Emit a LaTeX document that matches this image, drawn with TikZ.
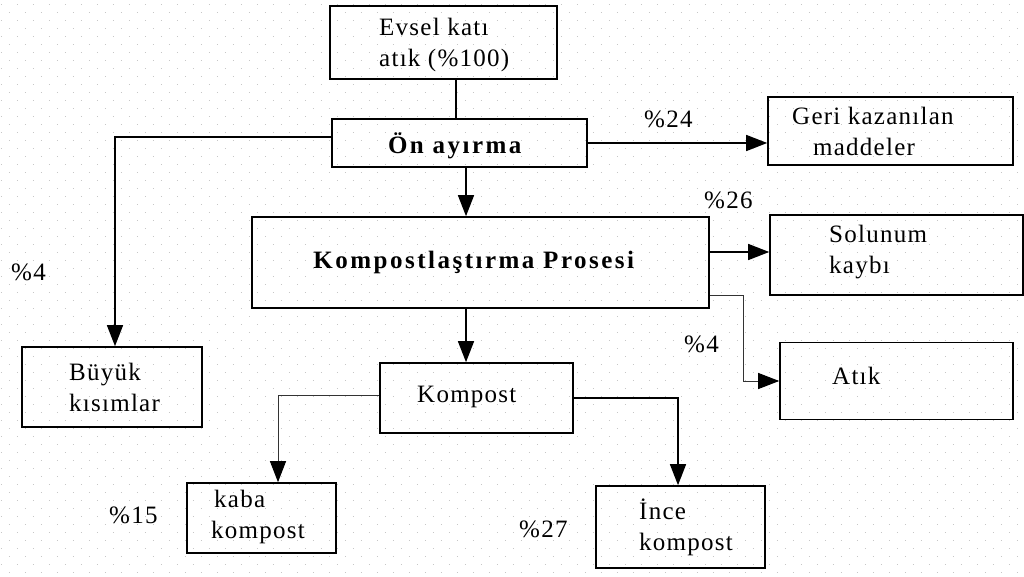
\documentclass[tikz,border=0pt]{standalone}
\usepackage{fontspec}
\setmainfont{Liberation Serif}[LetterSpace=5, BoldFeatures={LetterSpace=10}]
\usetikzlibrary{arrows.meta}

\tikzset{
  box/.style={draw, line width=1.6pt, inner sep=0pt},
  txt/.style={inner sep=0pt, align=left, font=\fontsize{25}{31}\selectfont},
  conn/.style={line width=1.4pt},
  thinconn/.style={line width=1pt, black!80},
  flow/.style={conn, -{Triangle[length=21pt, width=16pt]}},
  thinflow/.style={thinconn, -{Triangle[length=21pt, width=16pt, color=black, fill=black]}},
  dotrow/.style={line width=1.5pt, black!22, dash pattern=on 1.5pt off 14.5pt},
}

\begin{document}
\begin{tikzpicture}[x=1pt, y=-1pt]
\useasboundingbox (0,0) rectangle (1024,577);

% dotted paper: staggered rows 8pt apart, dots 16pt apart
\foreach \m in {0,...,71} {
  \pgfmathsetmacro{\yy}{4.7 + 8*\m}
  \pgfmathsetmacro{\xx}{mod(\m,2)==0 ? 1.7 - 0.75 : 9.7 - 0.75}
  \draw[dotrow] (\xx,\yy) -- (1024,\yy);
}

% boxes
\node[box, minimum width=227pt, minimum height=73pt] (evsel)   at (443.5,42.5) {};
\node[box, minimum width=255pt, minimum height=48pt] (on)      at (459.5,143)  {};
\node[box, minimum width=245pt, minimum height=68pt] (geri)    at (890.5,131)  {};
\node[box, minimum width=457pt, minimum height=91pt] (komp)    at (480.5,262.5){};
\node[box, minimum width=253pt, minimum height=80pt] (solunum) at (896.5,255)  {};
\node[box, minimum width=233pt, minimum height=77pt] (atik)    at (896.5,381)  {};
\node[box, minimum width=180pt, minimum height=80pt] (buyuk)   at (112,387)    {};
\node[box, minimum width=193pt, minimum height=70pt] (kompost) at (476.5,398)  {};
\node[box, minimum width=149pt, minimum height=70pt] (kaba)    at (261.5,518)  {};
\node[box, minimum width=169pt, minimum height=82pt] (ince)    at (680.5,527)  {};

% box texts
\node[txt, anchor=west] (evsel-t)   at (379,44.5) {Evsel katı\\atık (\%100)};
\node[txt] (on-t)      at (456,146) {\textbf{Ön ayırma}};
\node[txt, anchor=west] (geri-t)    at (792,131) {Geri kazanılan\\\hspace*{21pt}maddeler};
\node[txt] (komp-t)    at (475,262) {\textbf{Kompostlaştırma Prosesi}};
\node[txt, anchor=west] (solunum-t) at (829,252) {Solunum\\kaybı};
\node[txt, anchor=west] (atik-t)    at (832,376) {Atık};
\node[txt, anchor=west] (buyuk-t)   at (69,387)  {Büyük\\kısımlar};
\node[txt, anchor=west] (kompost-t) at (417,397) {Kompost};
\node[txt, anchor=west] (kaba-t)    at (211,517) {\hspace*{3pt}kaba\\kompost};
\node[txt, anchor=west] (ince-t)    at (639,527) {İnce\\kompost};

% share labels
\node[txt, anchor=west] (p4a)  at (11,272)  {\%4};
\node[txt, anchor=west] (p24)  at (644,119) {\%24};
\node[txt, anchor=west] (p26)  at (704,200) {\%26};
\node[txt, anchor=west] (p4b)  at (684,344) {\%4};
\node[txt, anchor=west] (p15)  at (109,515) {\%15};
\node[txt, anchor=west] (p27)  at (519,529) {\%27};

% guide columns and tap points
\coordinate (xa) at (456,0);
\coordinate (xc) at (466,0);
\coordinate (xd) at (278,0);
\coordinate (xe) at (678,0);
\coordinate (xb) at (115,0);
\path ([yshift=6pt]on.west) coordinate (on-l);
\path ([yshift=10.5pt]komp.east) coordinate (k-s);
\path ([yshift=-32.5pt]komp.east) coordinate (k-a);
\path ([yshift=3pt]kompost.west) coordinate (ko-l);

% connectors
\draw[conn] (evsel.south -| xa) -- (on.north -| xa);
\draw[flow] (on-l) -| (buyuk.north -| xb);
\draw[flow] (on.east) -- (on.east -| geri.west);
\draw[flow] (on.south -| xc) -- (komp.north -| xc);
\draw[flow] (k-s) -- (k-s -| solunum.west);
\draw[thinflow] (k-a) -- ++(34,0) |- (atik.west);
\draw[flow] (komp.south -| xc) -- (kompost.north -| xc);
\draw[thinflow] (ko-l) -| (kaba.north -| xd);
\draw[flow] (kompost.east) -| (ince.north -| xe);
\end{tikzpicture}
\end{document}
